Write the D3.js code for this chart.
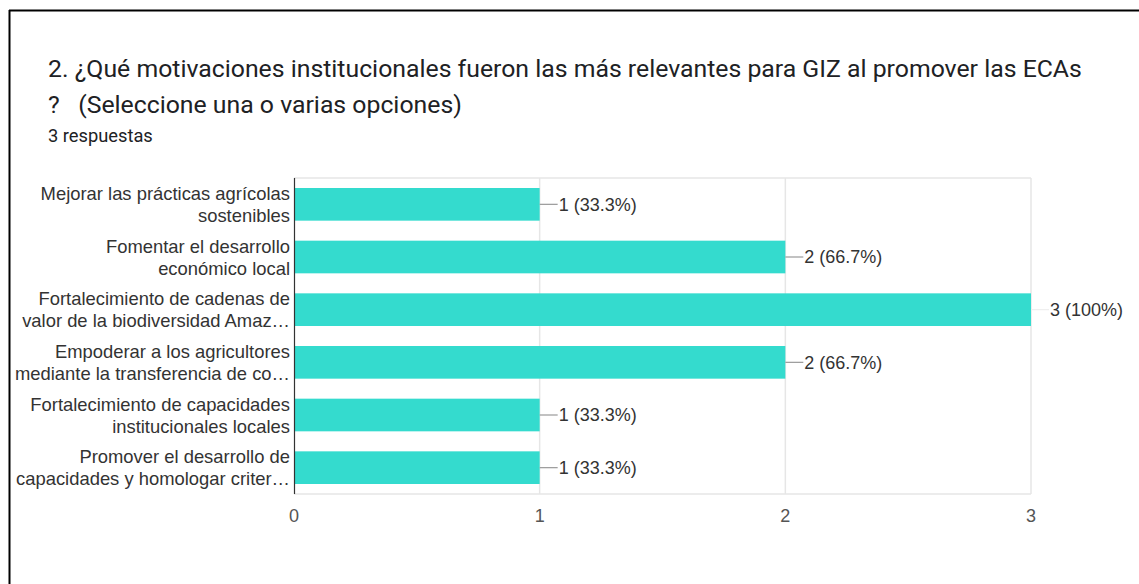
<!DOCTYPE html>
<html><head><meta charset="utf-8">
<script src="https://cdn.jsdelivr.net/npm/d3@7"></script>
<style>
html,body{margin:0;padding:0;background:#fff;}
svg{display:block;}
text{white-space:pre;}
</style></head>
<body>
<svg id="chart" width="1139" height="584"></svg>
<script>
const titleLines = ["2. ¿Qué motivaciones institucionales fueron las más relevantes para GIZ al promover las ECAs", "?   (Seleccione una o varias opciones)"];
const subtitle = "3 respuestas";
const categories = [
  ["Mejorar las prácticas agrícolas", "sostenibles"],
  ["Fomentar el desarrollo", "económico local"],
  ["Fortalecimiento de cadenas de", "valor de la biodiversidad Amaz…"],
  ["Empoderar a los agricultores", "mediante la transferencia de co…"],
  ["Fortalecimiento de capacidades", "institucionales locales"],
  ["Promover el desarrollo de", "capacidades y homologar criter…"]
];
const values = [1, 2, 3, 2, 1, 1];
const valueLabels = ["1 (33.3%)", "2 (66.7%)", "3 (100%)", "2 (66.7%)", "1 (33.3%)", "1 (33.3%)"];
const xTicks = [0, 1, 2, 3];

(function(){
const svg = d3.select("#chart");
const font = "Roboto, Arial, sans-serif";
const cfont = "'Liberation Sans', Arial, sans-serif";

svg.append("line").attr("x1",9.5).attr("x2",9.5).attr("y1",10).attr("y2",584).attr("stroke","#000").attr("stroke-width",2);
svg.append("line").attr("x1",9).attr("x2",1139).attr("y1",10.5).attr("y2",10.5).attr("stroke","#000").attr("stroke-width",2);

svg.selectAll("text.title").data(titleLines).join("text")
  .attr("class","title").attr("x",48).attr("y",(d,i)=>77+i*36)
  .attr("font-family",font).attr("font-size",24.8).attr("fill","#202124").text(d=>d);
svg.append("text").attr("x",48).attr("y",142).attr("font-family",font)
  .attr("font-size",18.3).attr("fill","#202124").text(subtitle);

const pLeft = 294, pRight = 1031, pTop = 178, pBottom = 494;
const x = d3.scaleLinear().domain([0,3]).range([pLeft,pRight]);
const y = d3.scaleBand().domain(d3.range(categories.length)).range([pTop,pBottom]).paddingInner(0.38).paddingOuter(0.19);

svg.append("g").selectAll("line").data(xTicks.slice(1)).join("line")
  .attr("x1",d=>x(d)).attr("x2",d=>x(d)).attr("y1",pTop).attr("y2",pBottom)
  .attr("stroke","#e6e6e6").attr("stroke-width",1.5);
svg.append("line").attr("x1",pLeft).attr("x2",pRight).attr("y1",pTop).attr("y2",pTop).attr("stroke","#e6e6e6").attr("stroke-width",1.5);
svg.append("line").attr("x1",pLeft).attr("x2",pRight).attr("y1",pBottom).attr("y2",pBottom).attr("stroke","#e6e6e6").attr("stroke-width",1.5);

svg.append("g").selectAll("rect").data(values).join("rect")
  .attr("x",x(0)).attr("y",(d,i)=>y(i)).attr("width",d=>x(d)-x(0)).attr("height",y.bandwidth())
  .attr("fill","#34dbce");

svg.append("line").attr("x1",pLeft+0.5).attr("x2",pLeft+0.5).attr("y1",pTop).attr("y2",pBottom).attr("stroke","#333").attr("stroke-width",1.2);

const vg = svg.append("g");
values.forEach((v,i)=>{
  const cy = y(i)+y.bandwidth()/2;
  vg.append("line").attr("x1",x(v)).attr("x2",x(v)+18).attr("y1",cy).attr("y2",cy)
    .attr("stroke", v===3 ? "#eeeeee" : "#999").attr("stroke-width",1.2);
  vg.append("text").attr("x",x(v)+19).attr("y",cy).attr("dy","0.36em")
    .attr("font-family",cfont).attr("font-size",18).attr("fill","#333").text(valueLabels[i]);
});

const cg = svg.append("g");
categories.forEach((lines,i)=>{
  const cy = y(i)+y.bandwidth()/2;
  lines.forEach((t,j)=>{
    cg.append("text").attr("x",290).attr("y",cy+(j-0.5)*22).attr("dy","0.36em")
      .attr("text-anchor","end").attr("font-family",cfont).attr("font-size",18.4).attr("fill","#333").text(t);
  });
});

svg.append("g").selectAll("text").data(xTicks).join("text")
  .attr("x",d=>x(d)).attr("y",516).attr("dy","0.36em").attr("text-anchor","middle")
  .attr("font-family",cfont).attr("font-size",18).attr("fill","#555").text(d=>d);
})();
</script>
</body></html>
